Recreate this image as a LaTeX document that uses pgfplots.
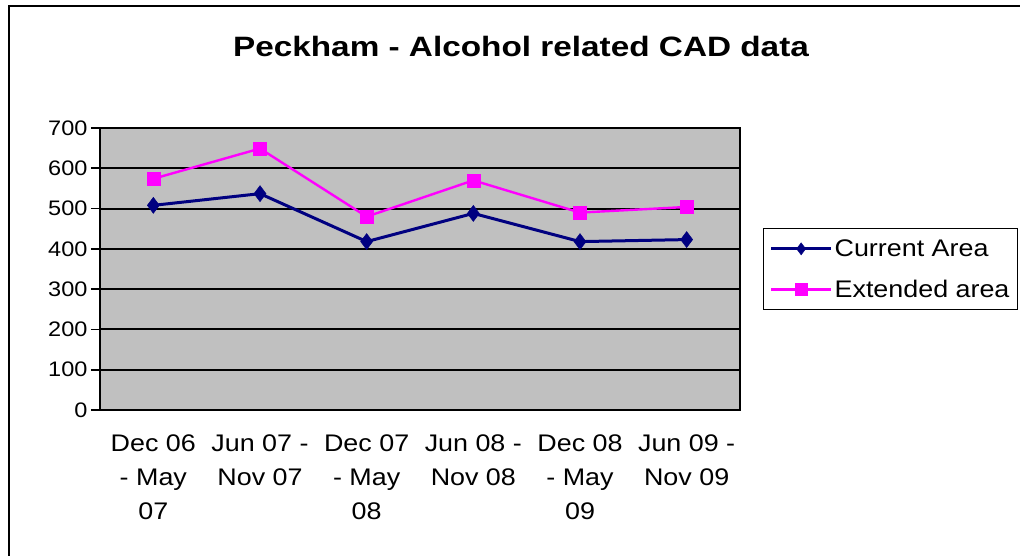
\documentclass[border=0pt]{standalone}
\usepackage{fontspec}
\setmainfont{Liberation Sans}[FakeStretch=1.12]
\newfontfamily\titlefont{Liberation Sans}[FakeStretch=1.19]
\usepackage{pgfplots}
\pgfplotsset{compat=1.18}
\definecolor{navyc}{RGB}{0,0,128}
\definecolor{magc}{RGB}{255,0,255}
\definecolor{plotgray}{RGB}{192,192,192}
\begin{document}
\begin{tikzpicture}[x=1pt,y=1pt]
\useasboundingbox (0,0) rectangle (1020,556);
\draw[line width=2pt] (9,-5) -- (9,550) -- (1030,550);
\node[anchor=base,font=\titlefont\fontsize{28}{32}\selectfont\bfseries] at (521,499) {Peckham - Alcohol related CAD data};
\begin{axis}[
  at={(100pt,146pt)}, anchor=south west,
  scale only axis, width=640pt, height=282pt,
  xmin=-0.5, xmax=5.5, ymin=0, ymax=700,
  axis background/.style={fill=plotgray},
  axis line style={line width=1.8pt},
  xtick={0,...,5},
  xticklabels={{Dec 06\\- May\\07},{Jun 07 -\\Nov 07},{Dec 07\\- May\\08},{Jun 08 -\\Nov 08},{Dec 08\\- May\\09},{Jun 09 -\\Nov 09}},
  xticklabel style={align=center, font=\fontsize{24}{34}\selectfont, yshift=-12pt},
  x tick style={draw=none},
  extra x ticks={-0.5,0.5,1.5,2.5,3.5,4.5,5.5},
  extra x tick labels={},
  extra x tick style={grid=none, tick style={draw=black, line width=1.8pt}, major tick length=9pt},
  ytick={0,100,...,700},
  yticklabel style={font=\fontsize{21}{24}\selectfont},
  y tick style={line width=1.8pt, black},
  major tick length=9pt,
  tick align=outside,
  xtick pos=bottom, ytick pos=left,
  ymajorgrids, grid style={black, line width=2pt},
  /pgf/number format/assume math mode=true,
  legend style={at={(1.036,0.645)}, anchor=north west, draw=black, line width=1.2pt, fill=white,
    font=\fontsize{24}{28}\selectfont, inner xsep=6pt, inner ysep=9pt, row sep=18pt},
  legend cell align=left,
  legend image code/.code={\draw[#1, mark size=6pt, mark repeat=2, mark phase=2] plot coordinates {(0pt,0pt) (30pt,0pt) (60pt,0pt)};},
  clip=false,
]
\addplot[color=navyc, line width=3pt, mark=diamond*, mark size=8pt, mark options={solid, fill=navyc, line width=0.5pt}]
  coordinates {(0,508) (1,537) (2,418) (3,488) (4,418) (5,423)};
\addlegendentry{Current Area}
\addplot[color=magc, line width=2.4pt, mark=square*, mark size=6.5pt, mark options={solid, fill=magc, line width=0.5pt}]
  coordinates {(0,574) (1,649) (2,480) (3,570) (4,490) (5,504)};
\addlegendentry{Extended area}
\end{axis}
\end{tikzpicture}
\end{document}
